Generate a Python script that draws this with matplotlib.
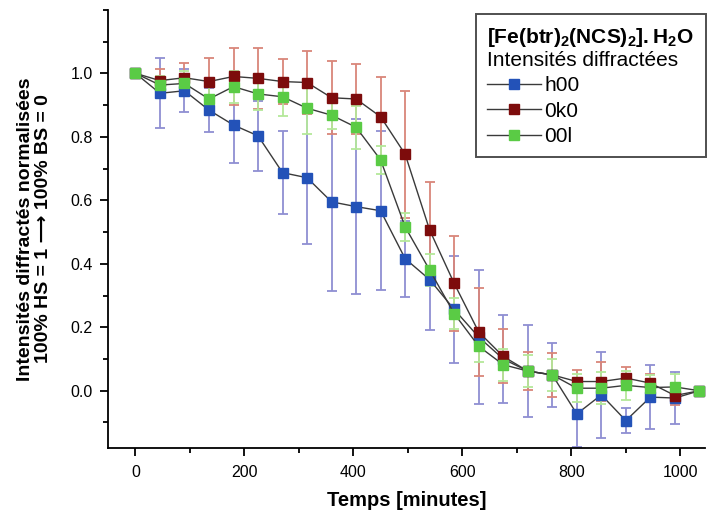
# normalised diffracted intensities of h00 / 0k0 / 00l vs time
# [Fe(btr)2(NCS)2].H2O, HS -> BS conversion

import numpy as np
import matplotlib
matplotlib.use("Agg")
import matplotlib.pyplot as plt
from matplotlib.ticker import MultipleLocator

plt.rcParams['font.family'] = ['Liberation Sans', 'DejaVu Sans']
plt.rcParams['mathtext.fontset'] = 'custom'
plt.rcParams['mathtext.rm'] = 'Liberation Sans'
plt.rcParams['mathtext.bf'] = 'Liberation Sans:bold'

# time [minutes]
t = np.arange(0, 1036, 45)

# h00
h00 = [1.0, 0.937, 0.945, 0.884, 0.837, 0.803, 0.687, 0.671, 0.595, 0.580,
       0.567, 0.416, 0.350, 0.256, 0.169, 0.100, 0.062, 0.050, -0.073, -0.013,
       -0.094, -0.020, -0.023, 0.0]
h00_err = [0.0, 0.11, 0.067, 0.07, 0.12, 0.11, 0.13, 0.21, 0.28, 0.275,
           0.25, 0.12, 0.16, 0.17, 0.21, 0.14, 0.145, 0.10, 0.105, 0.135,
           0.04, 0.10, 0.083, 0.0]

# 0k0
k0 = [1.0, 0.977, 0.986, 0.974, 0.990, 0.984, 0.974, 0.971, 0.923, 0.919,
      0.863, 0.745, 0.506, 0.338, 0.185, 0.108, 0.062, 0.050, 0.029, 0.029,
      0.040, 0.024, -0.015, 0.0]
k0_err = [0.0, 0.037, 0.045, 0.075, 0.09, 0.095, 0.07, 0.10, 0.115, 0.11,
          0.125, 0.20, 0.15, 0.15, 0.14, 0.085, 0.06, 0.07, 0.035, 0.06,
          0.035, 0.03, 0.03, 0.0]

# 00l
l00 = [1.0, 0.963, 0.968, 0.919, 0.958, 0.935, 0.926, 0.890, 0.868, 0.830,
       0.727, 0.516, 0.380, 0.243, 0.140, 0.082, 0.062, 0.050, 0.008, 0.008,
       0.017, 0.010, 0.012, 0.0]
l00_err = [0.0, 0.03, 0.04, 0.04, 0.05, 0.05, 0.06, 0.08, 0.045, 0.067,
           0.045, 0.045, 0.05, 0.05, 0.05, 0.05, 0.05, 0.05, 0.045, 0.05,
           0.045, 0.04, 0.04, 0.0]

series = [
    ("h00", h00, h00_err, '#2352b8', '#8f8fd2'),
    ("0k0", k0, k0_err, '#7d0c0c', '#d9867a'),
    ("00l", l00, l00_err, '#5acb45', '#b4e89a'),
]

fig = plt.figure(figsize=(7.07, 5.16), dpi=100)
ax = fig.add_axes([0.153, 0.132, 0.844, 0.849])

# error bars first, then lines + markers on top
for name, y, e, c, ec in series:
    ax.errorbar(t, y, yerr=e, fmt='none', ecolor=ec, elinewidth=1.3,
                capsize=3.8, capthick=1.3, zorder=1)
for name, y, e, c, ec in series:
    ax.plot(t, y, '-', color='#3a3a3a', lw=1.0, marker='s', markersize=7.2,
            markerfacecolor=c, markeredgecolor=c, label=name, zorder=3)

ax.set_xlim(-50, 1045)
ax.set_ylim(-0.18, 1.2)
ax.xaxis.set_major_locator(MultipleLocator(200))
ax.xaxis.set_minor_locator(MultipleLocator(100))
ax.yaxis.set_major_locator(MultipleLocator(0.2))
ax.yaxis.set_minor_locator(MultipleLocator(0.1))
ax.set_yticks(np.arange(0, 1.01, 0.2))
ax.yaxis.set_major_formatter(plt.FormatStrFormatter('%.1f'))
ax.tick_params(which='major', direction='out', length=6, width=1.3,
               labelsize=11.5, pad=5)
ax.tick_params(axis='x', which='major', pad=6)
ax.tick_params(which='minor', direction='out', length=3.5, width=1.3)
for s in ['top', 'right']:
    ax.spines[s].set_visible(False)
for s in ['left', 'bottom']:
    ax.spines[s].set_linewidth(1.3)

ax.set_xlabel("Temps [minutes]", fontsize=14.5, fontweight='bold', labelpad=8)
ax.set_ylabel("Intensités diffractés normalisées\n100% HS = 1 ⟶ 100% BS = 0",
              fontsize=14, fontweight='bold', labelpad=13, linespacing=1.1)

title = r"$\mathbf{[Fe(btr)_2(NCS)_2].H_2O}$" + "\nIntensités diffractées"
leg = ax.legend(title=title, loc='upper right', bbox_to_anchor=(0.998, 0.972),
                bbox_transform=fig.transFigure, fontsize=15, title_fontsize=15,
                frameon=True, fancybox=False, edgecolor='#222222',
                handlelength=2.6, handletextpad=0.15, borderpad=0.55,
                labelspacing=0.3, alignment='left', borderaxespad=0)
leg.get_frame().set_linewidth(1.4)
leg.get_title().set_multialignment('left')
leg.get_title().set_linespacing(1.15)

fig.savefig("out.png", dpi=100)
